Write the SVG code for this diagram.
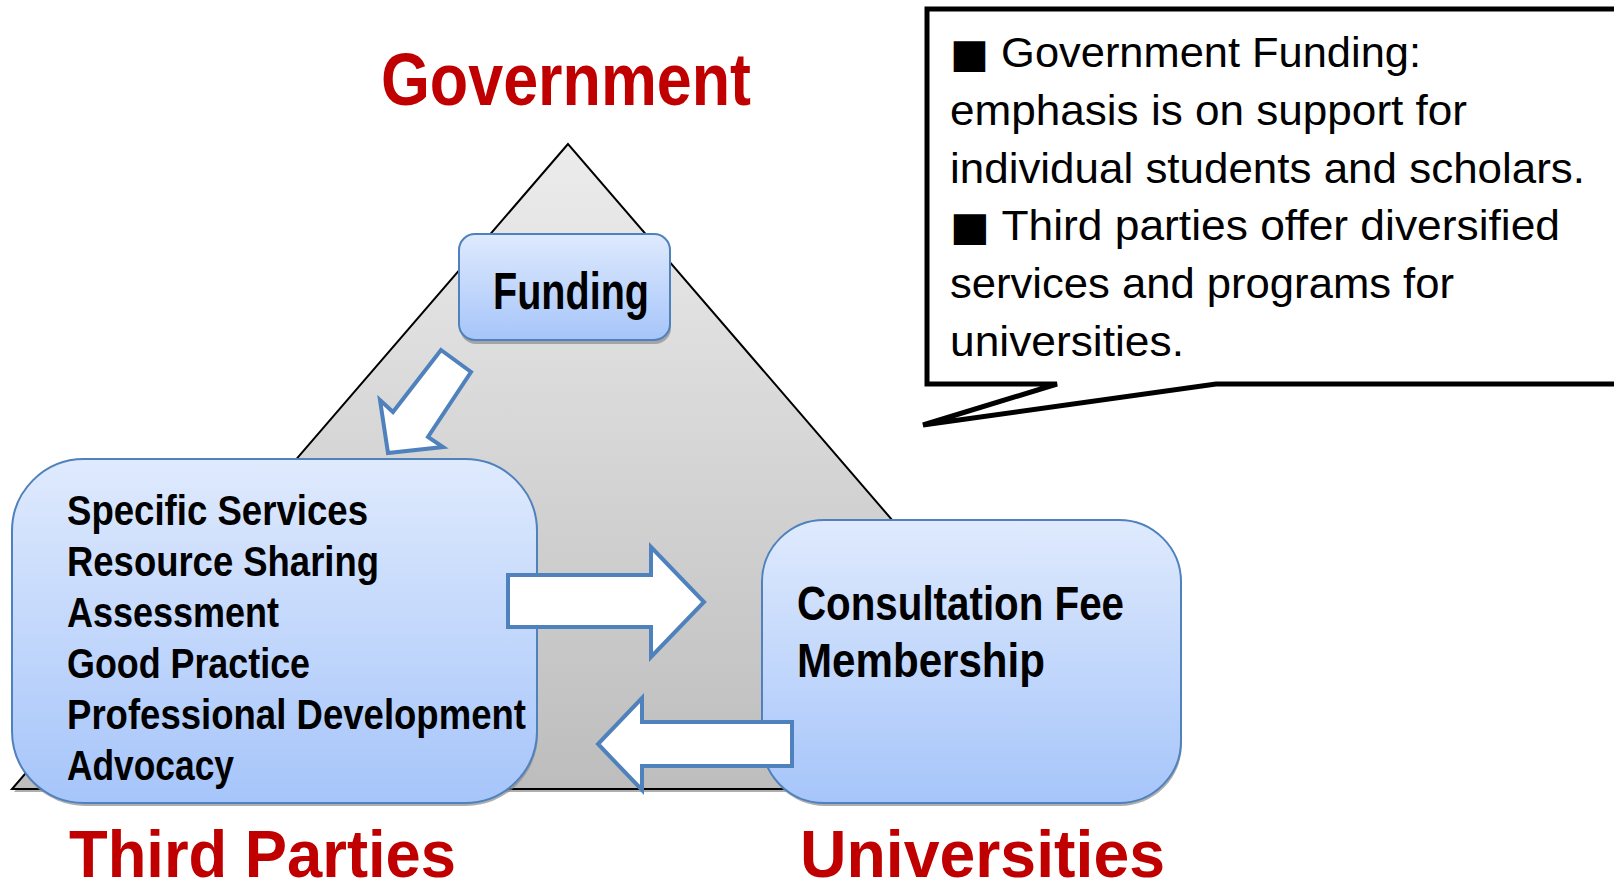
<svg xmlns="http://www.w3.org/2000/svg" width="1614" height="889" viewBox="0 0 1614 889">
<defs>
<linearGradient id="gTri" x1="0" y1="0" x2="0" y2="1">
<stop offset="0" stop-color="#ececec"/>
<stop offset="1" stop-color="#bdbdbd"/>
</linearGradient>
<linearGradient id="gBox" x1="0" y1="0" x2="0" y2="1">
<stop offset="0" stop-color="#dfeafd"/>
<stop offset="1" stop-color="#a6c5fa"/>
</linearGradient>
<style>
.box{fill:url(#gBox);stroke:#4f81bd;stroke-width:2}
.shadow{fill:#8c8c8c;opacity:0.7}
.arrow{fill:#ffffff;stroke:#4f81bd;stroke-width:4;stroke-linejoin:miter}
.title{font-family:"Liberation Sans",Arial,sans-serif;font-weight:bold;fill:#c00000}
.lbl{font-family:"Liberation Sans",Arial,sans-serif;font-weight:bold;fill:#000000}
.note{font-family:"Liberation Sans","DejaVu Sans",Arial,sans-serif;fill:#000000;font-size:42px}
.sq{font-family:"DejaVu Sans",sans-serif;font-size:40px}
</style>
</defs>

<g id="pyramid">
<polygon points="568,147 14,792 1126,792" class="shadow"/>
<polygon points="568,144 12,789 1124,789" fill="url(#gTri)" stroke="#000000" stroke-width="2" stroke-linejoin="miter"/>
</g>

<g id="callout">
<path d="M927,9 L1625,9 L1625,384 L1216,384 L923,425 L1057,384 L927,384 Z" fill="#ffffff" stroke="#000000" stroke-width="5" stroke-linejoin="miter"/>
<text class="note" x="950" y="67" textLength="471" lengthAdjust="spacingAndGlyphs"><tspan class="sq">■</tspan> Government Funding:</text>
<text class="note" x="950" y="125" textLength="517" lengthAdjust="spacingAndGlyphs">emphasis is on support for</text>
<text class="note" x="950" y="183" textLength="635" lengthAdjust="spacingAndGlyphs">individual students and scholars.</text>
<text class="note" x="950" y="240" textLength="610" lengthAdjust="spacingAndGlyphs"><tspan class="sq">■</tspan> Third parties offer diversified</text>
<text class="note" x="950" y="298" textLength="504" lengthAdjust="spacingAndGlyphs">services and programs for</text>
<text class="note" x="950" y="356" textLength="234" lengthAdjust="spacingAndGlyphs">universities.</text>
</g>

<g id="government">
<text class="title" x="381" y="105" font-size="75" textLength="370" lengthAdjust="spacingAndGlyphs">Government</text>
</g>

<g id="funding">
<rect x="460" y="238" width="211" height="106" rx="16" class="shadow"/>
<rect x="459" y="234" width="211" height="106" rx="16" class="box"/>
<text class="lbl" x="493" y="309" font-size="52" textLength="156" lengthAdjust="spacingAndGlyphs">Funding</text>
</g>

<g id="third-parties">
<rect x="13" y="462" width="525" height="344" rx="72" class="shadow"/>
<rect x="12" y="459" width="525" height="344" rx="72" class="box"/>
<text class="lbl" x="67" y="525" font-size="43" textLength="301" lengthAdjust="spacingAndGlyphs">Specific Services</text>
<text class="lbl" x="67" y="576" font-size="43" textLength="312" lengthAdjust="spacingAndGlyphs">Resource Sharing</text>
<text class="lbl" x="67" y="627" font-size="43" textLength="212" lengthAdjust="spacingAndGlyphs">Assessment</text>
<text class="lbl" x="67" y="678" font-size="43" textLength="243" lengthAdjust="spacingAndGlyphs">Good Practice</text>
<text class="lbl" x="67" y="729" font-size="43" textLength="459" lengthAdjust="spacingAndGlyphs">Professional Development</text>
<text class="lbl" x="67" y="780" font-size="43" textLength="167" lengthAdjust="spacingAndGlyphs">Advocacy</text>
</g>

<g id="universities">
<rect x="763" y="523" width="419" height="283" rx="62" class="shadow"/>
<rect x="762" y="520" width="419" height="283" rx="62" class="box"/>
<text class="lbl" x="797" y="620" font-size="48" textLength="327" lengthAdjust="spacingAndGlyphs">Consultation Fee</text>
<text class="lbl" x="797" y="677" font-size="48" textLength="248" lengthAdjust="spacingAndGlyphs">Membership</text>
</g>

<g id="connectors">
<polygon class="arrow" points="441,350 471,372 428,437 443,447 388,453 380,400 393,412"/>
<polygon class="arrow" points="508,575 651,575 651,547 704,602 651,657 651,627 508,627"/>
<polygon class="arrow" points="792,722 642,722 642,698 598,744 642,790 642,766 792,766"/>
</g>

<g id="labels">
<text class="title" x="69" y="877" font-size="67" textLength="387" lengthAdjust="spacingAndGlyphs">Third Parties</text>
<text class="title" x="800" y="877" font-size="67" textLength="365" lengthAdjust="spacingAndGlyphs">Universities</text>
</g>
</svg>
